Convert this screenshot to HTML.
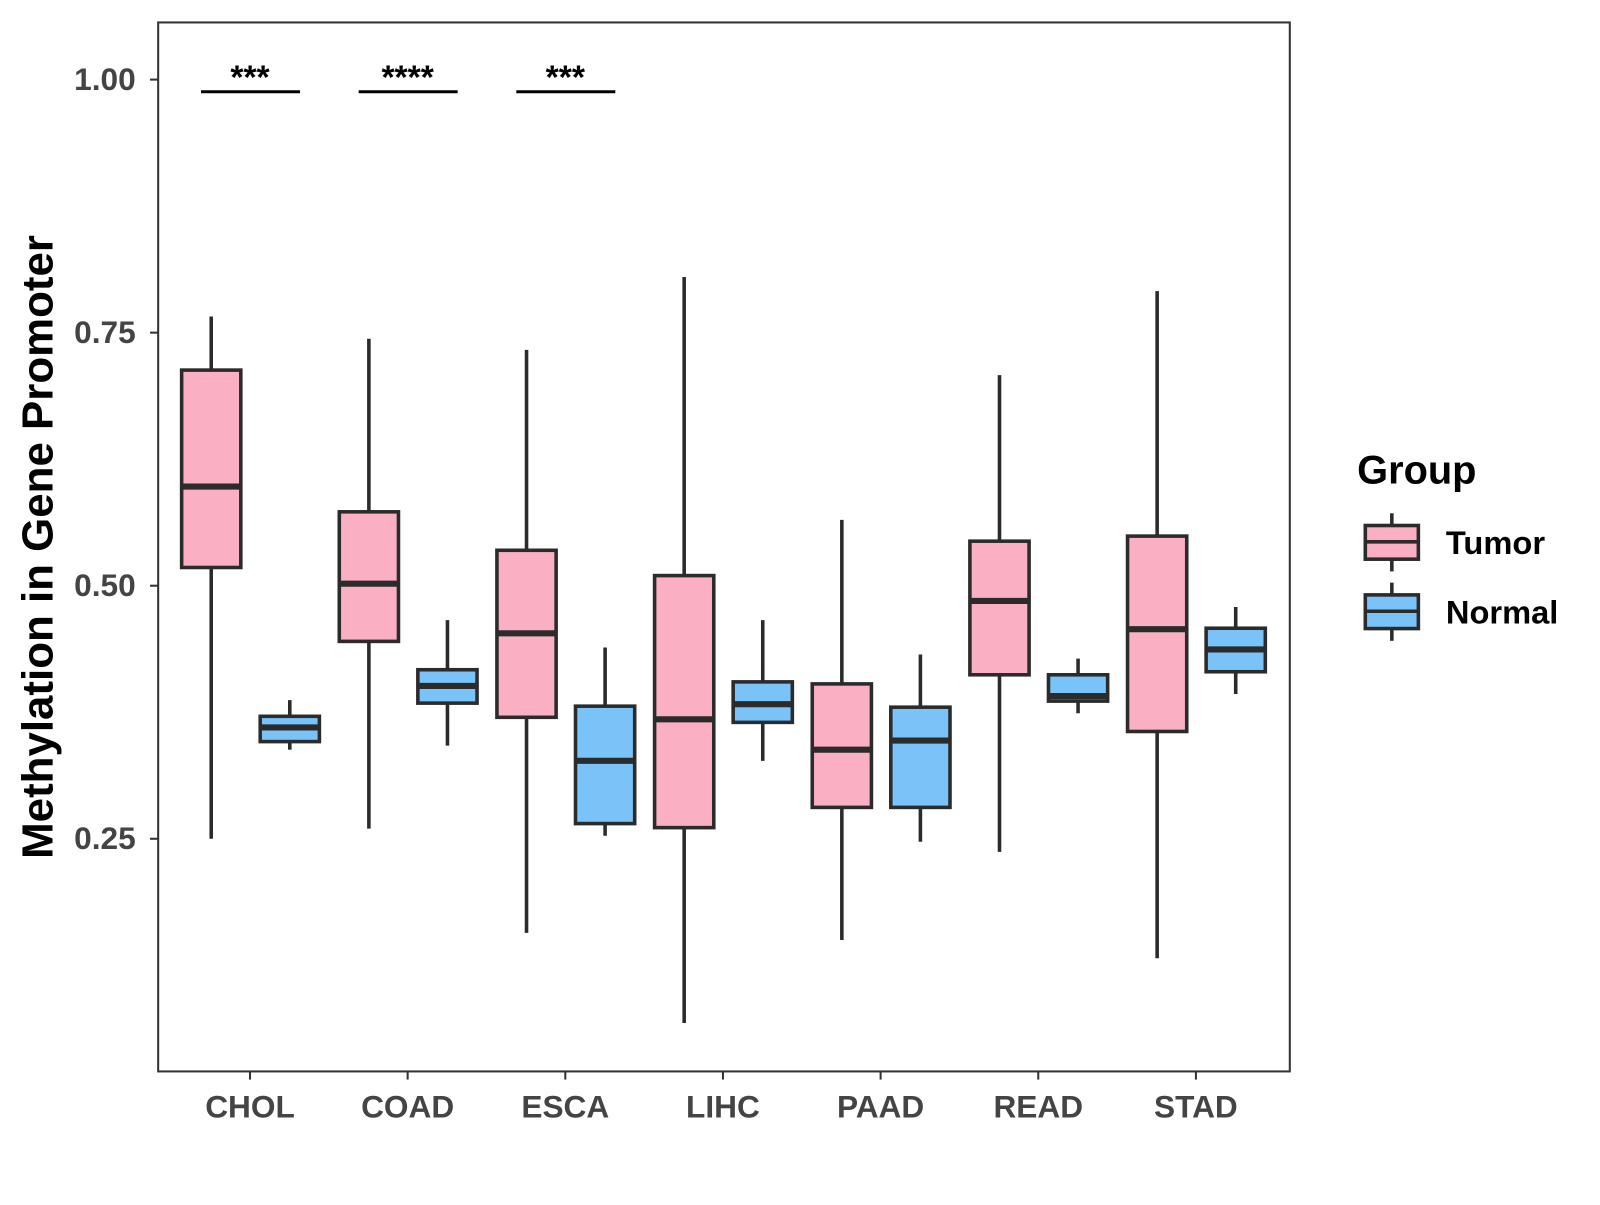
<!DOCTYPE html>
<html><head><meta charset="utf-8"><style>
body{margin:0;background:#fff;}
svg text{font-family:"Liberation Sans",Arial,sans-serif;font-weight:bold;}
</style></head><body>
<svg id="chart" width="1600" height="1200" viewBox="0 0 1568 1176">
<rect x="155" y="22" width="1109" height="1028" fill="#fff" stroke="#333" stroke-width="2"/>
<g id="yaxis"></g>
<g id="xaxis"></g>
<g id="boxes"></g>
<g id="sig"></g>
<text x="40" y="536" transform="rotate(-90 40 536)" text-anchor="middle" dominant-baseline="middle" font-size="43" fill="#000">Methylation in Gene Promoter</text>
<g>
<text x="1330" y="474" font-size="39" fill="#000">Group</text>
<g>
<line x1="1364" y1="503" x2="1364" y2="560" stroke="#2b2b2b" stroke-width="3.5"/>
<rect x="1338" y="515" width="52" height="33" fill="#fbafc2" stroke="#2b2b2b" stroke-width="3.5"/>
<line x1="1338" y1="531" x2="1390" y2="531" stroke="#2b2b2b" stroke-width="3.5"/>
<text x="1417" y="543" font-size="32" fill="#000">Tumor</text></g>
<g>
<line x1="1364" y1="571" x2="1364" y2="628" stroke="#2b2b2b" stroke-width="3.5"/>
<rect x="1338" y="583" width="52" height="33" fill="#79c3f9" stroke="#2b2b2b" stroke-width="3.5"/>
<line x1="1338" y1="599" x2="1390" y2="599" stroke="#2b2b2b" stroke-width="3.5"/>
<text x="1417" y="611" font-size="32" fill="#000">Normal</text></g>
</g>
</svg>
<script>
const categories=["CHOL","COAD","ESCA","LIHC","PAAD","READ","STAD"];
const tumorLow=[0.25,0.26,0.157,0.068,0.15,0.237,0.132];
const tumorQ1=[0.518,0.445,0.37,0.261,0.281,0.412,0.356];
const tumorMed=[0.598,0.502,0.453,0.368,0.338,0.485,0.457];
const tumorQ3=[0.713,0.573,0.535,0.51,0.403,0.544,0.549];
const tumorHigh=[0.766,0.744,0.733,0.805,0.565,0.708,0.791];
const normalLow=[0.338,0.342,0.253,0.327,0.247,0.374,0.393];
const normalQ1=[0.346,0.384,0.265,0.365,0.281,0.386,0.415];
const normalMed=[0.36,0.401,0.327,0.383,0.347,0.391,0.437];
const normalQ3=[0.371,0.417,0.381,0.405,0.38,0.412,0.458];
const normalHigh=[0.387,0.466,0.439,0.466,0.432,0.428,0.479];
const yTicks=[0.25,0.5,0.75,1.0];
const yTickLabels=["0.25","0.50","0.75","1.00"];
const sigCats=["CHOL","COAD","ESCA"];
const sigLabels=["***","****","***"];
const sigLevel=[0.988,0.988,0.988];

const NS="http://www.w3.org/2000/svg";
function y(v){return 78+(1-v)*992;}
function x(i){return 245+i*154.5;}
function mk(parent,tag,attrs){const e=document.createElementNS(NS,tag);for(const k in attrs)e.setAttribute(k,attrs[k]);document.getElementById(parent).appendChild(e);return e;}
yTicks.forEach((t,i)=>{
  const l=mk("yaxis","line",{x1:147,x2:155,y1:y(t),y2:y(t),stroke:"#333","stroke-width":2});
  
  
  const tx=mk("yaxis","text",{x:133,y:y(t)+10,"text-anchor":"end","font-size":31,fill:"#444"});
  tx.textContent=yTickLabels[i];
  
  
});
categories.forEach((c,i)=>{
  const l=mk("xaxis","line",{x1:x(i),x2:x(i),y1:1050,y2:1058,stroke:"#333","stroke-width":2});
  
  
  const tx=mk("xaxis","text",{x:x(i),y:1095,"text-anchor":"middle","font-size":31,fill:"#444"});
  tx.textContent=c;
  
  
});
function box(cx,lo,q1,md,q3,hi,fill,name){
  const g=mk("boxes","g",{});
  
  
  const a=(t,o)=>{const e=document.createElementNS(NS,t);for(const k in o)e.setAttribute(k,o[k]);g.appendChild(e);};
  a("line",{x1:cx,x2:cx,y1:y(hi),y2:y(lo),stroke:"#2b2b2b","stroke-width":3.5});
  a("rect",{x:cx-29,y:y(q3),width:58,height:y(q1)-y(q3),fill:fill,stroke:"#2b2b2b","stroke-width":3.5});
  a("line",{x1:cx-29,x2:cx+29,y1:y(md),y2:y(md),stroke:"#2b2b2b","stroke-width":6});
}
categories.forEach((c,i)=>{
  box(x(i)-38,tumorLow[i],tumorQ1[i],tumorMed[i],tumorQ3[i],tumorHigh[i],"#fbafc2","box-tumor-"+c.toLowerCase());
  box(x(i)+39,normalLow[i],normalQ1[i],normalMed[i],normalQ3[i],normalHigh[i],"#79c3f9","box-normal-"+c.toLowerCase());
});
sigCats.forEach((c,k)=>{
  const i=categories.indexOf(c);
  const l=mk("sig","line",{x1:x(i)-48,x2:x(i)+49,y1:y(sigLevel[k]),y2:y(sigLevel[k]),stroke:"#000","stroke-width":3});
  
  
  const t=mk("sig","text",{x:x(i),y:y(sigLevel[k])-3,"text-anchor":"middle","font-size":33,fill:"#000"});
  t.textContent=sigLabels[k];
  
  
});
</script>
</body></html>
